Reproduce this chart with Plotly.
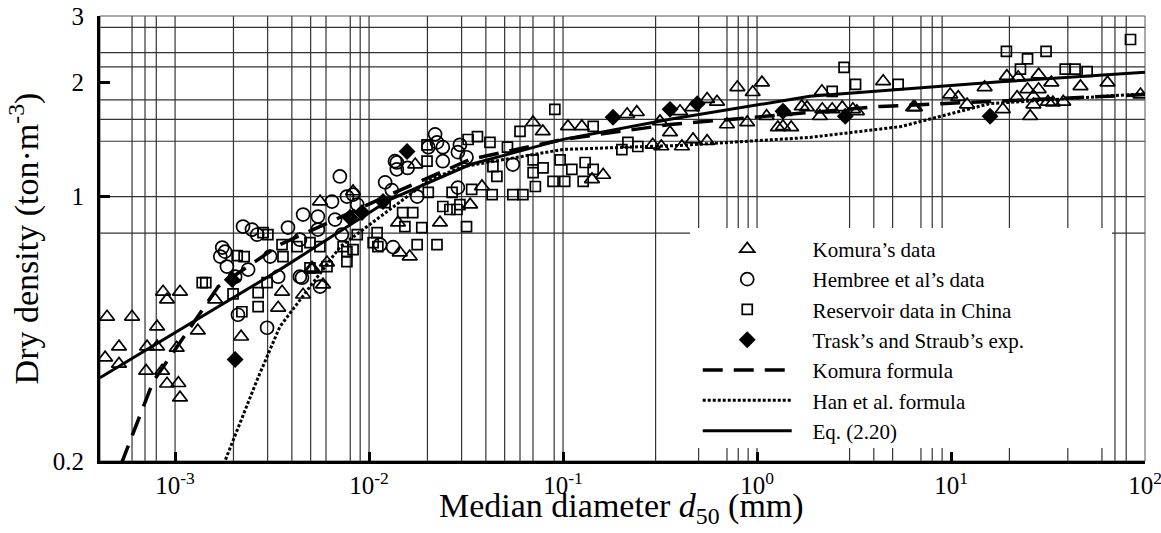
import plotly.graph_objects as go

# ---- measured data: median diameter d50 (mm) vs dry density (t/m^3) ----
komura_d = [4.46e-4, 6.0e-4, 8.67e-4, 1.06e-3, 9.09e-4, 8.08e-4, 5.14e-4, 7.17e-4, 8.08e-4, 1.02e-3,
            4.36e-4, 5.14e-4, 7.09e-4, 8.57e-4, 9.09e-4, 1.04e-3, 1.06e-3, 1.31e-3, 1.61e-3, 2.19e-3,
            3.40e-3, 3.56e-3, 5.08e-3, 5.79e-3, 4.57e-3, 6.07e-3, 5.08e-3, 5.59e-3, 8.27e-3, 0.0173,
            0.0332, 0.0232, 0.0141, 0.0162, 0.0144, 0.0382, 0.070, 0.0786, 0.106, 0.125,
            0.161, 0.214, 0.240, 0.316, 0.401, 0.463, 0.553, 0.622, 0.792, 0.95,
            1.06, 0.70, 0.89, 1.12, 1.39, 1.70, 1.28, 1.50, 0.290, 0.321,
            0.41, 0.468, 0.553, 0.356, 0.141, 2.16, 4.47, 1.81, 2.17, 2.44,
            3.27, 2.11, 6.52, 9.9, 10.9, 12.1, 14.9, 19.4, 22.2, 28.3,
            32.9, 18.5, 26.6, 31.6, 37.9, 25.6, 46.5, 64.1, 24.8, 28.3,
            21.9, 26.6, 33.5, 94.8, 1.36, 2.75, 3.12, 6.38]
komura_rho = [0.481, 0.481, 0.560, 0.560, 0.534, 0.453, 0.401, 0.401, 0.401, 0.398,
              0.375, 0.361, 0.346, 0.346, 0.320, 0.321, 0.294, 0.442, 0.534, 0.426,
              0.508, 0.560, 0.641, 0.585, 0.550, 0.669, 0.648, 0.970, 1.031, 1.215,
              0.952, 0.853, 0.853, 0.694, 0.711, 1.063, 1.57, 1.486, 1.532, 1.532,
              1.14, 1.649, 1.67, 1.58, 1.68, 1.72, 1.81, 1.78, 1.944, 1.886,
              2.0, 1.55, 1.57, 1.63, 1.67, 1.73, 1.523, 1.523, 1.37, 1.356,
              1.356, 1.415, 1.40, 1.477, 1.11, 1.897, 2.016, 1.72, 1.70, 1.70,
              1.68, 1.63, 1.72, 1.86, 1.83, 1.75, 1.944, 2.08, 2.066, 2.10,
              2.0, 1.70, 1.75, 1.78, 1.78, 1.63, 1.955, 2.0, 1.92, 1.92,
              1.83, 1.84, 1.77, 1.86, 1.532, 1.72, 1.70, 1.72]

hembree_d = [2.11e-3, 2.98e-3, 4.51e-3, 5.59e-3, 2.38e-3, 1.81e-3, 1.75e-3, 1.71e-3, 1.85e-3, 2.04e-3,
             2.24e-3, 2.49e-3, 2.65e-3, 3.09e-3, 3.40e-3, 4.40e-3, 3.82e-3, 4.57e-3, 5.45e-3, 6.44e-3,
             6.68e-3, 7.69e-3, 8.69e-3, 5.45e-3, 4.40e-3, 7.07e-3, 7.24e-3, 1.39e-2, 8.27e-3, 0.0219,
             0.0224, 0.0202, 0.0240, 0.0136, 0.0139, 0.0158, 0.0240, 0.0294, 0.0287, 0.0121,
             0.0131, 0.0177, 0.0114, 0.0133, 0.0287, 0.0551, 0.0318]
hembree_rho = [0.487, 0.45, 0.61, 0.578, 0.641, 0.715, 0.733, 0.694, 0.653, 0.614,
               0.833, 0.818, 0.793, 0.694, 0.614, 0.614, 0.828, 0.896, 0.885, 0.970,
               0.869, 1.0, 0.952, 0.818, 0.769, 1.13, 0.793, 1.23, 1.012, 1.46,
               1.39, 1.35, 1.35, 1.24, 1.18, 1.19, 1.24, 1.37, 1.31, 1.09,
               1.04, 1.0, 0.746, 0.735, 1.056, 1.215, 1.27]

reservoir_d = [1.38e-3, 1.44e-3, 1.99e-3, 2.21e-3, 2.68e-3, 2.68e-3, 2.09e-3, 2.27e-3, 2.84e-3, 4.96e-3,
               7.69e-3, 7.69e-3, 3.01e-3, 3.56e-3, 3.60e-3, 4.25e-3, 4.96e-3, 5.58e-3, 6.07e-3, 7.35e-3,
               8.27e-3, 8.69e-3, 1.10e-2, 1.05e-2, 1.11e-2, 1.21e-2, 2.98e-3, 0.0199, 0.0199, 0.0324,
               0.0362, 0.0420, 0.0517, 0.0435, 0.0456, 0.0202, 0.0268, 0.0294, 0.0338, 0.0240,
               0.0261, 0.0284, 0.0149, 0.0168, 0.0153, 0.0187, 0.0318, 0.0177, 0.0224, 0.0431,
               0.0551, 0.0621, 0.0600, 0.0907, 0.0701, 0.0701, 0.0720, 0.0789, 0.0966, 0.0888,
               0.102, 0.127, 0.111, 0.130, 0.143, 0.143, 0.201, 0.216, 0.243, 2.81,
               3.22, 2.44, 5.34, 19.3, 24.8, 30.9, 84.2, 22.8, 38.8, 43.6,
               50.3]
reservoir_rho = [0.592, 0.592, 0.553, 0.496, 0.512, 0.557, 0.698, 0.694, 0.803, 0.648,
                 0.673, 0.715, 0.793, 0.746, 0.694, 0.737, 0.755, 0.737, 0.653, 0.737,
                 0.724, 0.793, 0.803, 0.755, 0.737, 0.964, 0.592, 1.37, 1.24, 1.415,
                 1.44, 1.39, 1.35, 1.20, 1.13, 1.025, 1.025, 0.952, 1.044, 0.941,
                 0.924, 0.924, 0.907, 0.907, 0.833, 0.828, 0.833, 0.746, 0.746, 1.012,
                 1.012, 1.012, 1.486, 1.70, 1.25, 1.157, 1.063, 1.19, 1.25, 1.096,
                 1.096, 1.096, 1.18, 1.23, 1.18, 1.532, 1.33, 1.39, 1.356, 2.195,
                 1.98, 1.897, 1.98, 2.42, 2.31, 2.42, 2.60, 2.17, 2.17, 2.17,
                 2.14]

trask_d = [2.04e-3, 1.97e-3, 7.96e-3, 9.2e-3, 1.18e-2, 0.0157, 0.181, 0.356, 1.36, 2.85, 15.9, 0.492]
trask_rho = [0.371, 0.603, 0.880, 0.907, 0.970, 1.315, 1.62, 1.70, 1.68, 1.63, 1.63, 1.76]

# ---- formula curves ----
komura_f_d = [5.27e-4, 7.7e-4, 1.67e-3, 3.47e-3, 1.28e-2, 3.32e-2, 0.1, 0.356, 4.31, 100]
komura_f_rho = [0.196, 0.324, 0.578, 0.746, 1.012, 1.253, 1.416, 1.55, 1.73, 1.86]

han_f_d = [1.78e-3, 2.65e-3, 3.47e-3, 7.1e-3, 2.06e-2, 3.06e-2, 0.1, 0.401, 1.87, 5.47, 15.9, 100]
han_f_rho = [0.196, 0.328, 0.453, 0.737, 1.109, 1.20, 1.332, 1.365, 1.433, 1.53, 1.76, 1.87]

eq_d = [4.1e-4, 1e-3, 3.47e-3, 1.28e-2, 3.32e-2, 0.1, 0.356, 1.87, 17.9, 100]
eq_rho = [0.332, 0.436, 0.641, 0.982, 1.215, 1.416, 1.60, 1.84, 2.01, 2.13]

# ---- axes ----
x_tick_vals = [1e-3, 1e-2, 1e-1, 1, 10, 100]
x_tick_text = ["10<sup>-3</sup>", "10<sup>-2</sup>", "10<sup>-1</sup>", "10<sup>0</sup>",
               "10<sup>1</sup>", "10<sup>2</sup>"]
y_tick_vals = [0.2, 1, 2, 3]
y_tick_text = ["0.2", "1", "2", "3"]

# grid lines of the printed chart
x_grid = [6e-4, 7e-4, 8e-4, 1e-3, 2e-3, 3e-3, 4e-3, 5e-3, 6e-3, 8e-3, 9e-3, 1e-2,
          2e-2, 3e-2, 4e-2, 5e-2, 6e-2, 7e-2, 9e-2, 0.1, 0.3, 0.5, 0.7, 0.8, 0.9, 1,
          3, 4, 5, 7, 8, 9, 20, 40, 60, 70, 80]
y_grid = [0.8, 1.0, 1.4, 1.6, 1.8, 2.2, 2.4, 2.8]

SERIF = "Liberation Serif, Times New Roman, serif"
NBSP = "\u00a0\u00a0\u00a0"

fig = go.Figure()

mk_line = dict(color="black", width=1.7)
fig.add_trace(go.Scatter(x=komura_d, y=komura_rho, mode="markers", name=NBSP + "Komura’s data",
                         marker=dict(symbol="triangle-up-open", size=13, color="black", line=mk_line)))
fig.add_trace(go.Scatter(x=hembree_d, y=hembree_rho, mode="markers", name=NBSP + "Hembree et al’s data",
                         marker=dict(symbol="circle-open", size=13, color="black", line=mk_line)))
fig.add_trace(go.Scatter(x=reservoir_d, y=reservoir_rho, mode="markers", name=NBSP + "Reservoir data in China",
                         marker=dict(symbol="square-open", size=10, color="black", line=mk_line)))
fig.add_trace(go.Scatter(x=trask_d, y=trask_rho, mode="markers", name=NBSP + "Trask’s and Straub’s exp.",
                         marker=dict(symbol="diamond", size=13, color="black", line=dict(width=0))))
fig.add_trace(go.Scatter(x=komura_f_d, y=komura_f_rho, mode="lines", name=NBSP + "Komura formula",
                         line=dict(color="black", width=3.5, dash="20px,11px")))
fig.add_trace(go.Scatter(x=han_f_d, y=han_f_rho, mode="lines", name=NBSP + "Han et al. formula",
                         line=dict(color="black", width=3, dash="3px,2px")))
fig.add_trace(go.Scatter(x=eq_d, y=eq_rho, mode="lines", name=NBSP + "Eq. (2.20)",
                         line=dict(color="black", width=3)))

shapes = []
for gx in x_grid:
    shapes.append(dict(type="line", xref="x", yref="paper", x0=gx, x1=gx, y0=0, y1=1,
                       line=dict(color="#333", width=1.2), layer="below"))
for gy in y_grid:
    shapes.append(dict(type="line", xref="paper", yref="y", x0=0, x1=1, y0=gy, y1=gy,
                       line=dict(color="#333", width=1.2), layer="below"))
# blank panel behind the legend
shapes.append(dict(type="rect", xref="paper", yref="paper", x0=0.5646, x1=0.9684, y0=0.029, y1=0.5236,
                   fillcolor="white", line=dict(width=0), layer="below"))
# thin frame on top and right
shapes.append(dict(type="rect", xref="paper", yref="paper", x0=0, x1=1, y0=0, y1=1,
                   line=dict(color="#555", width=1), layer="below"))

fig.update_layout(
    width=1161, height=533,
    margin=dict(l=100, r=16, t=16, b=72, autoexpand=False),
    paper_bgcolor="white", plot_bgcolor="white",
    font=dict(family=SERIF, color="black", size=25),
    shapes=shapes,
    showlegend=True,
    legend=dict(x=0.572, y=0.522, xanchor="left", yanchor="top", bgcolor="rgba(0,0,0,0)",
                borderwidth=0, font=dict(family=SERIF, size=21, color="black"),
                itemwidth=89, tracegroupgap=0),
    xaxis=dict(type="log", range=[-3.387, 2], tickmode="array", tickvals=x_tick_vals,
               ticktext=x_tick_text, ticks="inside", ticklen=9, tickwidth=3, tickcolor="black",
               showline=True, linewidth=3, linecolor="black", showgrid=False, zeroline=False,
               tickfont=dict(family=SERIF, size=25), ticklabeloverflow="allow", automargin=False),
    yaxis=dict(type="log", range=[-0.69897, 0.47712], tickmode="array", tickvals=y_tick_vals,
               ticktext=y_tick_text, ticks="inside", ticklen=10, tickwidth=3, tickcolor="black",
               showline=True, linewidth=3, linecolor="black", showgrid=False, zeroline=False,
               tickfont=dict(family=SERIF, size=25), ticklabelstandoff=8, automargin=False,
               title=dict(text="Dry density (ton·m<sup>-3</sup>)",
                          font=dict(family=SERIF, size=34), standoff=4)),
    annotations=[dict(text="Median diameter <i>d</i><sub>50</sub> (mm)", xref="paper", yref="paper",
                      x=0.4986, y=-0.106, xanchor="center", yanchor="middle", showarrow=False,
                      font=dict(family=SERIF, size=34, color="black"))],
)

fig.write_html("out.html")
